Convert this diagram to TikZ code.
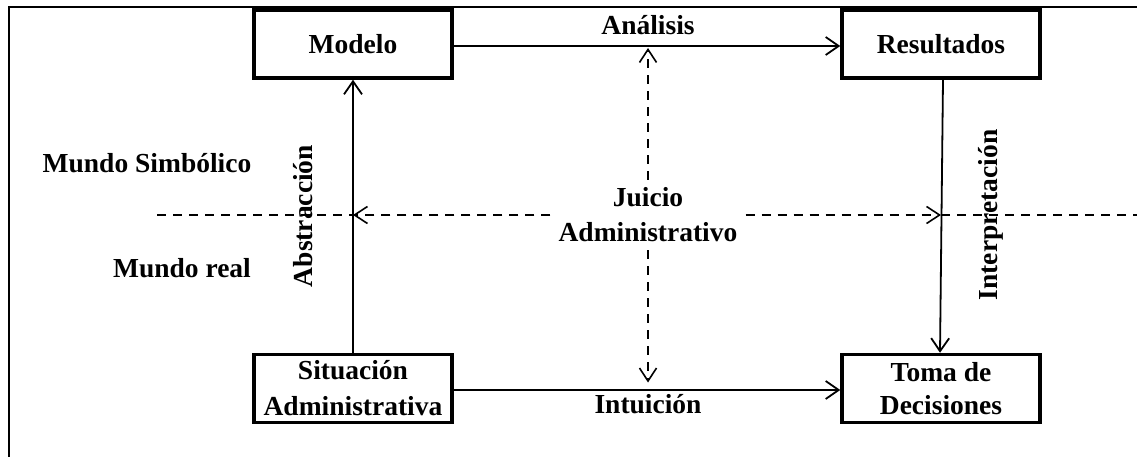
\documentclass[tikz,border=0pt]{standalone}
\usepackage{fontspec}
\setmainfont{Liberation Serif}
\usetikzlibrary{arrows.meta}
\begin{document}
\begin{tikzpicture}[x=1pt,y=-1pt,
  every node/.style={font=\fontsize{27.5}{35}\selectfont\bfseries},
  box/.style={draw,line width=3.5pt,minimum width=198pt,minimum height=68pt,inner sep=0pt,align=center},
  frameline/.style={line width=2.5pt},
  arr/.style={line width=1.8pt,-{Straight Barb[length=13pt,width=18pt,line width=1.8pt]}},
  dasharr/.style={line width=1.6pt,dash pattern=on 9pt off 7pt,-{Straight Barb[length=13pt,width=17pt,line width=1.6pt]}},
  dashline/.style={line width=1.6pt,dash pattern=on 9pt off 7pt},
  lab/.style={anchor=base,inner sep=0pt}]
\useasboundingbox (0,0) rectangle (1137,457);
\draw[frameline] (9,457) -- (9,7) -- (1137,7);
% boxes
\node[box] (modelo) at (353,44) {Modelo};
\node[box] (resultados) at (941,44) {Resultados};
\node[box,font=\fontsize{27.5}{36}\selectfont\bfseries] (situacion) at (353,388.5) {Situación\\Administrativa};
\node[box,font=\fontsize{27.5}{33}\selectfont\bfseries] (toma) at (941,388.5) {Toma de\\Decisiones};
% center text
\node[align=center,inner sep=8pt] (juicio) at (648,215) {Juicio\\Administrativo};
% labels
\node[lab] (analisis) at (648,35) {Análisis};
\node[lab] (intuicion) at (648,413) {Intuición};
\node[lab] (simb) at (147,173) {Mundo Simbólico};
\node[lab] (real) at (182,277) {Mundo real};
\node[rotate=90,inner sep=0pt] (abstr) at (303,216) {Abstracción};
\node[rotate=90,inner sep=0pt] (interp) at (991,215) {Interpretación};
% solid arrows
\draw[arr] (modelo.east) ++(0,2) -- ([yshift=-2pt]resultados.west);
\draw[arr] ([yshift=-1.5pt]situacion.east) -- ([yshift=-1.5pt]toma.west);
\draw[arr] (situacion.north) -- (modelo.south);
\draw[arr] ([xshift=2pt]resultados.south) -- ([xshift=-1pt]toma.north);
% dashed
\coordinate (wl) at (157,215);
\coordinate (wr) at (1137,215);
\draw[dasharr] (juicio.west) -- (juicio.west -| modelo.south);
\draw[dashline] (wl) -- (wl -| modelo.south);
\draw[dasharr] (juicio.east) -- (juicio.east -| toma.north);
\draw[dashline] (wr -| toma.north) -- (wr);
\draw[dasharr,shorten >=4pt] (juicio.north) -- (juicio.north |- modelo.east);
\draw[dasharr,shorten >=6pt] (juicio.south) -- (juicio.south |- situacion.east);
\end{tikzpicture}
\end{document}
